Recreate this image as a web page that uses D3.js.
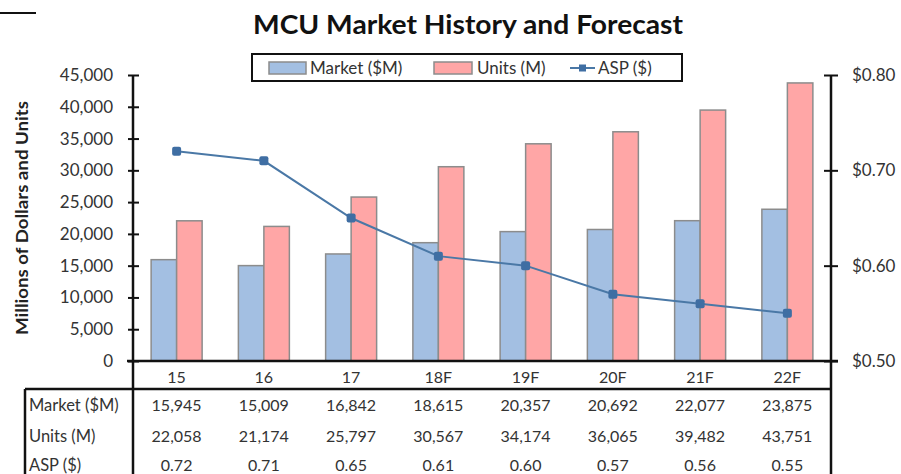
<!DOCTYPE html>
<html>
<head>
<meta charset="utf-8">
<script src="https://cdn.jsdelivr.net/npm/d3@7"></script>
<style>
  body { margin: 0; background: #fff; }
  svg text { font-family: Lato, "Open Sans", sans-serif; fill: #333; }
</style>
</head>
<body>
<div id="container"></div>
<script>
// data
const years = ["15", "16", "17", "18F", "19F", "20F", "21F", "22F"];
const market = [15945, 15009, 16842, 18615, 20357, 20692, 22077, 23875];
const units = [22058, 21174, 25797, 30567, 34174, 36065, 39482, 43751];
const asp = [0.72, 0.71, 0.65, 0.61, 0.60, 0.57, 0.56, 0.55];
const leftTicks = [0, 5000, 10000, 15000, 20000, 25000, 30000, 35000, 40000, 45000];
const rightTicks = [0.5, 0.6, 0.7, 0.8];
const rowLabels = ["Market ($M)", "Units (M)", "ASP ($)"];

const width = 901, height = 474;
const margin = {top: 75, left: 133, right: 831, bottom: 361};

const svg = d3.select("#container").append("svg")
  .attr("width", width)
  .attr("height", height);

// scales
const xScale = d3.scaleBand().domain(years).range([margin.left, margin.right]);
const xSub = d3.scaleBand().domain(["market", "units"])
  .range([0, 51]);
const yScale = d3.scaleLinear().domain([0, 45000]).range([margin.bottom, margin.top]);
const y2Scale = d3.scaleLinear().domain([0.5, 0.8]).range([margin.bottom, margin.top]);

// top-left fragment
svg.append("line").attr("x1", 0).attr("x2", 36).attr("y1", 13).attr("y2", 13)
  .attr("stroke", "#111").attr("stroke-width", 2);

// title
svg.append("text")
  .attr("x", 468).attr("y", 34)
  .attr("text-anchor", "middle")
  .attr("font-size", "26px")
  .attr("font-weight", "bold")
  .attr("textLength", 430)
  .attr("lengthAdjust", "spacingAndGlyphs")
  .style("fill", "#111")
  .text("MCU Market History and Forecast");

// legend
const lg = svg.append("g");
lg.append("rect").attr("x", 252).attr("y", 54).attr("width", 430).attr("height", 27)
  .attr("fill", "#fff").attr("stroke", "#111").attr("stroke-width", 2);
lg.append("rect").attr("x", 269).attr("y", 62).attr("width", 37).attr("height", 12)
  .attr("fill", "#a3bfe2").attr("stroke", "#8c8c8c").attr("stroke-width", 1.5);
lg.append("text").attr("x", 310).attr("y", 74).attr("font-size", "17px").text("Market ($M)");
lg.append("rect").attr("x", 434).attr("y", 62).attr("width", 38).attr("height", 12)
  .attr("fill", "#ffa6a6").attr("stroke", "#8c8c8c").attr("stroke-width", 1.5);
lg.append("text").attr("x", 477).attr("y", 74).attr("font-size", "17px").text("Units (M)");
lg.append("line").attr("x1", 570).attr("x2", 595).attr("y1", 68).attr("y2", 68)
  .attr("stroke", "#4a78a6").attr("stroke-width", 2);
lg.append("rect").attr("x", 579).attr("y", 64.5).attr("width", 7).attr("height", 7)
  .attr("fill", "#3f6ea3");
lg.append("text").attr("x", 598).attr("y", 74).attr("font-size", "17px").text("ASP ($)");

// bars
const groups = svg.append("g").selectAll("g")
  .data(years)
  .join("g")
  .attr("transform", d => `translate(${xScale(d) + xScale.bandwidth() / 2 - 25.5},0)`);

groups.append("rect")
  .attr("x", 0)
  .attr("y", (d, i) => yScale(market[i]))
  .attr("width", xSub.bandwidth())
  .attr("height", (d, i) => yScale(0) - yScale(market[i]))
  .attr("fill", "#a3bfe2")
  .attr("stroke", "#8c8c8c")
  .attr("stroke-width", 1.5);

groups.append("rect")
  .attr("x", xSub("units"))
  .attr("y", (d, i) => yScale(units[i]))
  .attr("width", xSub.bandwidth())
  .attr("height", (d, i) => yScale(0) - yScale(units[i]))
  .attr("fill", "#ffa6a6")
  .attr("stroke", "#8c8c8c")
  .attr("stroke-width", 1.5);

// ASP line
const line = d3.line()
  .x((d, i) => xScale(years[i]) + xScale.bandwidth() / 2)
  .y(d => y2Scale(d));

svg.append("path")
  .datum(asp)
  .attr("d", line)
  .attr("fill", "none")
  .attr("stroke", "#4a78a6")
  .attr("stroke-width", 2);

svg.append("g").selectAll("rect")
  .data(asp)
  .join("rect")
  .attr("x", (d, i) => xScale(years[i]) + xScale.bandwidth() / 2 - 4.5)
  .attr("y", d => y2Scale(d) - 4.5)
  .attr("width", 9)
  .attr("height", 9)
  .attr("rx", 2)
  .attr("fill", "#3f6ea3");

// axes
const yAxis = d3.axisLeft(yScale).tickValues(leftTicks)
  .tickFormat(d3.format(",")).tickSizeInner(5).tickSizeOuter(0).tickPadding(15);
const leftAxis = svg.append("g")
  .attr("transform", `translate(${margin.left},0)`)
  .call(yAxis);
leftAxis.select(".domain").remove();
leftAxis.selectAll(".tick line").attr("x1", -5).attr("x2", 6).attr("stroke", "#111").attr("stroke-width", 2);
leftAxis.selectAll(".tick text").attr("font-size", "17px").style("font-family", "Lato, sans-serif").style("fill", "#333");

const y2Axis = d3.axisRight(y2Scale).tickValues(rightTicks)
  .tickFormat(d => "$" + d3.format(".2f")(d)).tickSizeInner(6).tickSizeOuter(0).tickPadding(15);
const rightAxis = svg.append("g")
  .attr("transform", `translate(${margin.right},0)`)
  .call(y2Axis);
rightAxis.select(".domain").remove();
rightAxis.selectAll(".tick line").attr("x1", -7).attr("x2", 7).attr("stroke", "#111").attr("stroke-width", 2);
rightAxis.selectAll(".tick text").attr("font-size", "17px").style("font-family", "Lato, sans-serif").style("fill", "#333");

// axis lines and table frame
const frame = svg.append("g").attr("stroke", "#111").attr("stroke-width", 2.5).attr("fill", "none");
frame.append("line").attr("x1", margin.left).attr("x2", margin.left).attr("y1", margin.top).attr("y2", height);
frame.append("line").attr("x1", margin.right).attr("x2", margin.right).attr("y1", margin.top).attr("y2", height);
frame.append("line").attr("x1", margin.left - 6).attr("x2", margin.right + 7).attr("y1", margin.bottom).attr("y2", margin.bottom);
frame.append("line").attr("x1", 25).attr("x2", margin.right).attr("y1", 389).attr("y2", 389);
frame.append("line").attr("x1", 25).attr("x2", 25).attr("y1", 389).attr("y2", height);

// category labels
svg.append("g").selectAll("text")
  .data(years)
  .join("text")
  .attr("x", d => xScale(d) + xScale.bandwidth() / 2)
  .attr("y", 383)
  .attr("text-anchor", "middle")
  .attr("font-size", "16px")
  .text(d => d);

// left axis title
svg.append("text")
  .attr("transform", "translate(28,218) rotate(-90)")
  .attr("text-anchor", "middle")
  .attr("font-size", "17px")
  .attr("font-weight", "bold")
  .attr("textLength", 234)
  .attr("lengthAdjust", "spacingAndGlyphs")
  .style("fill", "#222")
  .text("Millions of Dollars and Units");

// data table
const rows = [
  market.map(d3.format(",")),
  units.map(d3.format(",")),
  asp.map(d3.format(".2f"))
];
const rowY = [411, 442, 471];

svg.append("g").selectAll("text")
  .data(rowLabels)
  .join("text")
  .attr("x", 29)
  .attr("y", (d, i) => rowY[i])
  .attr("font-size", "16.5px")
  .text(d => d);

rows.forEach((vals, r) => {
  svg.append("g").selectAll("text")
    .data(vals)
    .join("text")
    .attr("x", (d, i) => xScale(years[i]) + xScale.bandwidth() / 2)
    .attr("y", rowY[r])
    .attr("text-anchor", "middle")
    .attr("font-size", "16px")
    .text(d => d);
});
</script>
</body>
</html>
